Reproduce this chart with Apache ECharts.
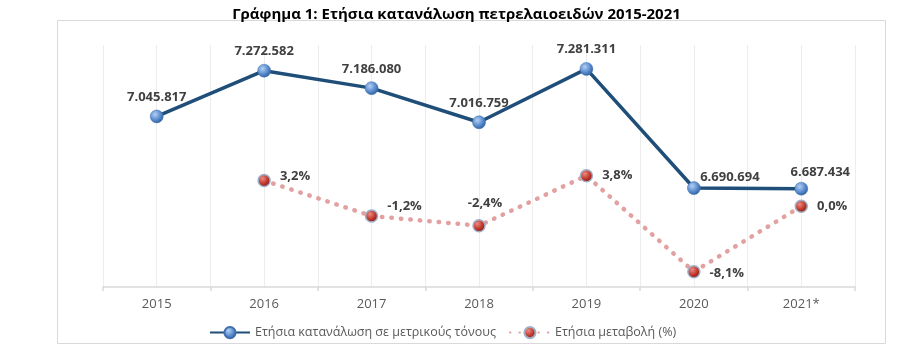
<!DOCTYPE html>
<html>
<head>
<meta charset="utf-8">
<script src="https://cdn.jsdelivr.net/npm/echarts@6/dist/echarts.min.js"></script>
<style>html,body{margin:0;padding:0;background:#fff;}#c{width:913px;height:363px;}</style>
</head>
<body>
<div id="c"></div>
<script>
var years = ['2015', '2016', '2017', '2018', '2019', '2020', '2021*'];
var consumption = [7045817, 7272582, 7186080, 7016759, 7281311, 6690694, 6687434];
var changePct = [null, 3.2, -1.2, -2.4, 3.8, -8.1, 0.0];
var seriesNames = ['Ετήσια κατανάλωση σε μετρικούς τόνους', 'Ετήσια μεταβολή (%)'];
var titleText = 'Γράφημα 1: Ετήσια κατανάλωση πετρελαιοειδών 2015-2021';

function fmtThousands(v) {
  return String(Math.round(v)).replace(/\B(?=(\d{3})+(?!\d))/g, '.');
}
function fmtPct(v) {
  return v.toFixed(1).replace('.', ',') + '%';
}

var FONT = '"Open Sans", "Noto Sans", sans-serif';

// label placement tweaks (styling only)
var mainLabelOffsets = [[0,0],[0,0],[0,0],[0,0],[0,0],[36,9],[19,3]];
var pctLabelCfg = [null,
  {position:'right', offset:[0,-4]},
  {position:'right', offset:[0,-10]},
  {position:'top', offset:[6,0]},
  {position:'right', offset:[0,0]},
  {position:'right', offset:[0,2]},
  {position:'right', offset:[0,0]}
];

var mainData = consumption.map(function (v, i) {
  return {value: v, label: {offset: mainLabelOffsets[i]}};
});
var pctData = changePct.map(function (v, i) {
  if (v === null) return null;
  return {value: v, label: pctLabelCfg[i]};
});

var halfCats = [];
for (var i = 0; i < years.length * 2; i++) halfCats.push('');

var blueBall = {
  type: 'radial', x: 0.38, y: 0.35, r: 0.7,
  colorStops: [{offset: 0, color: '#b4d0f2'}, {offset: 0.55, color: '#5d8fd0'}, {offset: 1, color: '#2c5c9a'}]
};
var redBall = {
  type: 'radial', x: 0.38, y: 0.35, r: 0.7,
  colorStops: [{offset: 0, color: '#ec8a84'}, {offset: 0.55, color: '#c0392b'}, {offset: 1, color: '#7a1111'}]
};

var chart = echarts.init(document.getElementById('c'));
chart.setOption({
  animation: false,
  backgroundColor: '#fff',
  title: {
    text: titleText, left: 'center', top: 2,
    textStyle: {fontFamily: FONT, fontSize: 15, fontWeight: 'bold', color: '#000'}
  },
  graphic: [{
    type: 'rect', shape: {x: 57.5, y: 20.5, width: 828, height: 323},
    style: {fill: 'none', stroke: '#d9d9d9', lineWidth: 1}, silent: true, z: -1
  }],
  legend: {
    left: 204, top: 321, itemWidth: 40, itemHeight: 14, itemGap: 13,
    textStyle: {fontFamily: FONT, fontSize: 12.5, color: '#595959'},
    data: seriesNames
  },
  grid: {left: 103, right: 58, top: 45, bottom: 76},
  xAxis: [{
    type: 'category', data: years, boundaryGap: true,
    axisLine: {onZero: false, lineStyle: {color: '#d9d9d9', width: 1.5}},
    axisTick: {show: true, length: 4, lineStyle: {color: '#d9d9d9', width: 1.5}},
    axisLabel: {margin: 11, fontFamily: FONT, fontSize: 13, color: '#595959'},
    splitLine: {show: false}
  }, {
    type: 'category', data: halfCats, boundaryGap: true, position: 'bottom',
    axisLine: {show: false, onZero: false}, axisTick: {show: false}, axisLabel: {show: false},
    splitLine: {show: true, interval: 0, lineStyle: {color: '#ededed', width: 1}}
  }],
  yAxis: [{
    type: 'value', min: 6200000, max: 7400000, interval: 200000,
    show: false, splitLine: {show: false}
  }, {
    type: 'value', min: -10, max: 20, interval: 5,
    show: false, splitLine: {show: false}
  }],
  series: [{
    name: seriesNames[0], type: 'line', xAxisIndex: 0, yAxisIndex: 0,
    data: mainData,
    symbol: 'circle', symbolSize: 13,
    lineStyle: {color: '#1f4e79', width: 3.5},
    itemStyle: {color: blueBall, borderColor: '#3f6fae', borderWidth: 0.5},
    label: {
      show: true, position: 'top', distance: 6,
      formatter: function (p) { return fmtThousands(p.value); },
      fontFamily: FONT, fontSize: 13, fontWeight: 'bold', color: '#404040'
    },
    z: 3
  }, {
    name: seriesNames[1], type: 'line', xAxisIndex: 0, yAxisIndex: 1,
    data: pctData, connectNulls: false,
    symbol: 'circle', symbolSize: 12,
    lineStyle: {color: '#e2a0a0', width: 4.5, type: [0.5, 9], cap: 'round'},
    itemStyle: {color: redBall, borderColor: '#9fb0c8', borderWidth: 1.5},
    label: {
      show: true, position: 'right', distance: 9,
      formatter: function (p) { return fmtPct(p.value); },
      fontFamily: FONT, fontSize: 13, fontWeight: 'bold', color: '#404040'
    },
    z: 2
  }]
});
</script>
</body>
</html>
